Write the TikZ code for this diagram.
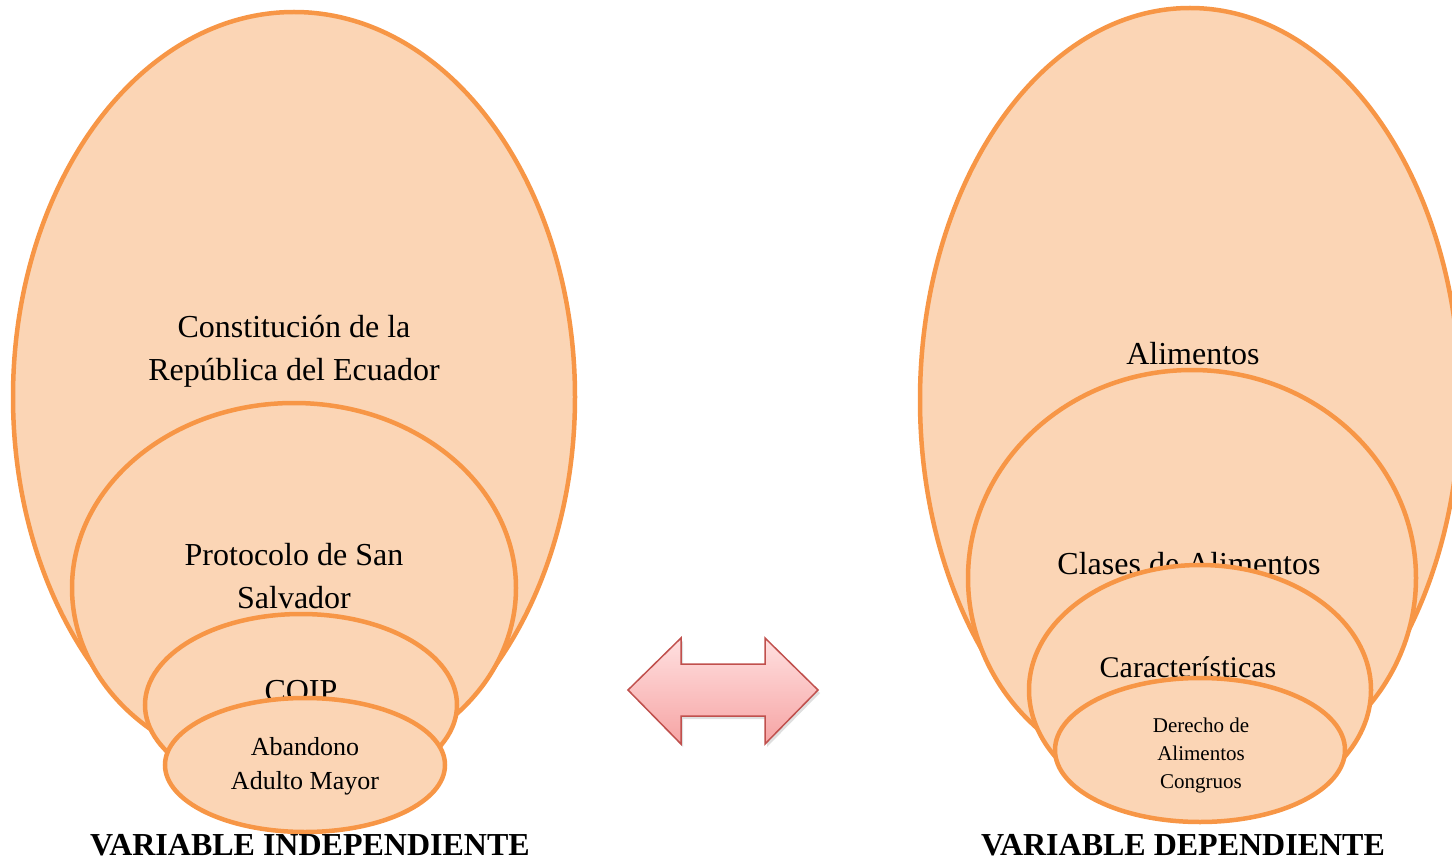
\documentclass[tikz,border=0pt]{standalone}
\usepackage{fontspec}
\setmainfont{Liberation Serif}
\usetikzlibrary{shadows}
\definecolor{ofill}{HTML}{FBD5B5}
\definecolor{oline}{HTML}{F79646}
\definecolor{aline}{HTML}{C0504D}
\definecolor{atop}{HTML}{FFE0E0}
\definecolor{abot}{HTML}{F6A4A4}
\tikzset{
  oval/.style={draw=oline, fill=ofill, line width=4.5pt},
  lbl/.style={align=center, inner sep=0pt, font=\fontsize{32}{43}\selectfont},
  small/.style={align=center, inner sep=0pt, font=\fontsize{26}{34}\selectfont},
  tiny/.style={align=center, inner sep=0pt, font=\fontsize{21}{28}\selectfont},
  title/.style={anchor=base, inner sep=0pt, font=\fontsize{32}{36}\selectfont\bfseries}
}
\begin{document}
\begin{tikzpicture}[x=1pt,y=-1pt]
\useasboundingbox (0,0) rectangle (1452,861);
\clip (0,0) rectangle (1452,861);
% left group
\draw[oval] (294,397) ellipse [x radius=281, y radius=385];
\node[lbl] (l1) at (294,351) {Constitución de la\\República del Ecuador};
\draw[oval] (294,588) ellipse [x radius=222, y radius=185];
\node[lbl] (l2) at (294,576) {Protocolo de San\\Salvador};
\draw[oval] (301,705) ellipse [x radius=156, y radius=91];
\node[lbl] (l3) at (301,691) {COIP};
\draw[oval] (305,765) ellipse [x radius=140, y radius=67];
\node[small] (l4) at (305,766) {Abandono\\Adulto Mayor};
\node[title] (t1) at (310,855) {VARIABLE INDEPENDIENTE};
% right group
\draw[oval] (1190,400) ellipse [x radius=270, y radius=392];
\node[lbl] (r1) at (1193,354) {Alimentos};
\draw[oval] (1192,578) ellipse [x radius=224, y radius=208];
\node[lbl] (r2) at (1189,564) {Clases de Alimentos};
\draw[oval] (1200,690) ellipse [x radius=171, y radius=125];
\node[lbl, font=\fontsize{30}{40}\selectfont] (r3) at (1188,667) {Características};
\draw[oval] (1200,750) ellipse [x radius=145, y radius=72];
\node[tiny] (r4) at (1201,755) {Derecho de\\Alimentos\\Congruos};
\node[title] (t2) at (1183,855) {VARIABLE DEPENDIENTE};
% double arrow
\draw[aline, line width=1.5pt, line join=miter, top color=atop, bottom color=abot,
      drop shadow={opacity=0.25, shadow xshift=2pt, shadow yshift=-3pt}]
  (628,690) -- (681,638) -- (681,664) -- (765,664) -- (765,638) -- (818,690)
  -- (765,744) -- (765,716) -- (681,716) -- (681,744) -- cycle;
\end{tikzpicture}
\end{document}
